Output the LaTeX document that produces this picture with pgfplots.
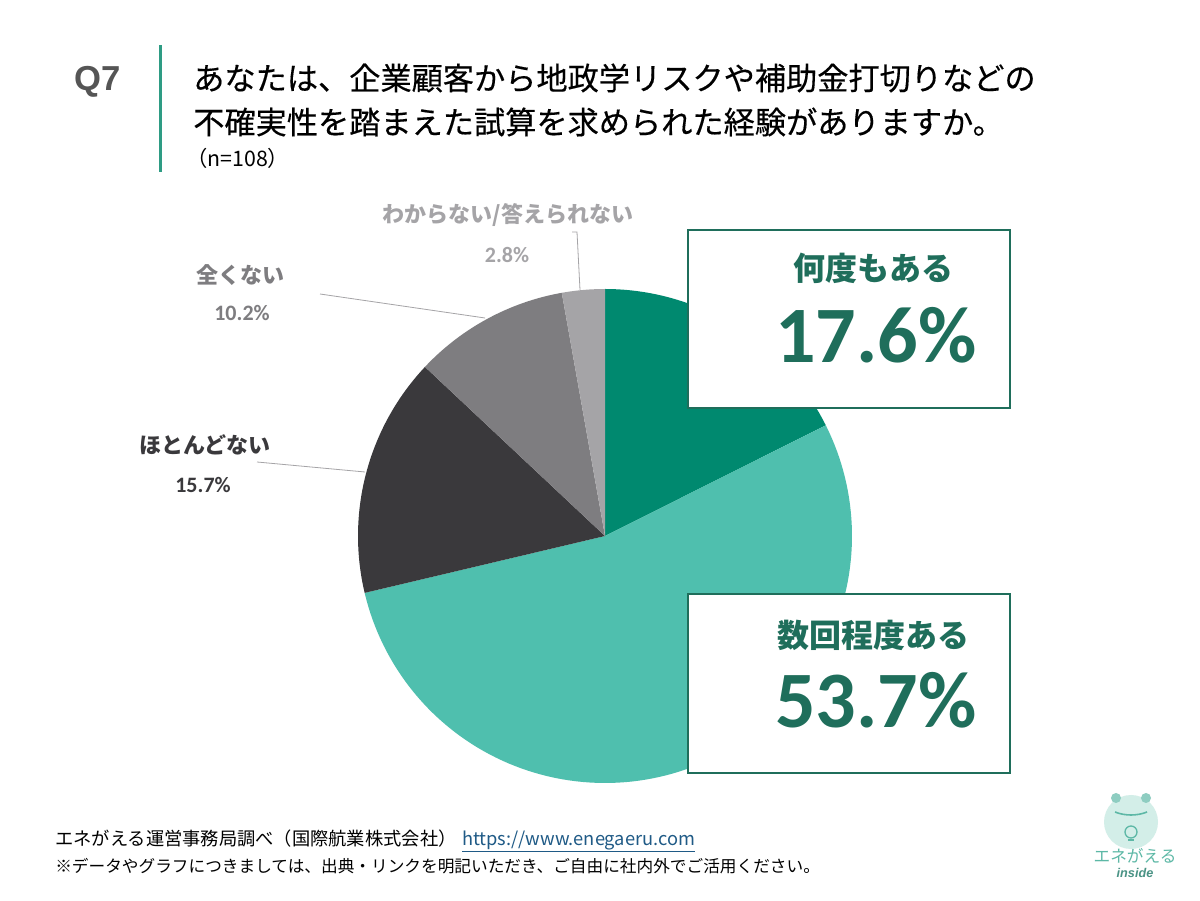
\documentclass[border=0pt]{standalone}
\usepackage{fontspec}
\usepackage{pgfplots}
\pgfplotsset{compat=1.18}
\setmainfont{Noto Sans CJK JP}
\newfontfamily\jp{Noto Sans CJK JP}
\newfontfamily\jpm{Noto Sans CJK JP}[FakeBold=0.35]
\newfontfamily\latin{Liberation Sans}
\newfontfamily\numfont{Carlito}

\definecolor{sliceA}{HTML}{00896F}
\definecolor{sliceB}{HTML}{4FBFAE}
\definecolor{sliceC}{HTML}{3A393C}
\definecolor{sliceD}{HTML}{7E7D80}
\definecolor{sliceE}{HTML}{A5A4A7}
\definecolor{boxgreen}{HTML}{1F6E5B}
\definecolor{qgrey}{HTML}{555555}
\definecolor{accent}{HTML}{2E9C84}
\definecolor{urlblue}{HTML}{1F5A86}
\definecolor{logoteal}{HTML}{5DB8A6}
\definecolor{logolight}{HTML}{D3EEE8}

% survey shares (%), clockwise from 12 o'clock
\def\vA{17.6}\def\vB{53.7}\def\vC{15.7}\def\vD{10.2}\def\vE{2.8}
\pgfmathsetmacro\aA{3.6*\vA}
\pgfmathsetmacro\aB{\aA+3.6*\vB}
\pgfmathsetmacro\aC{\aB+3.6*\vC}
\pgfmathsetmacro\aD{\aC+3.6*\vD}
\pgfmathsetmacro\aE{\aD+3.6*\vE}
\def\cx{605}\def\cy{364}\def\rr{247}

\newcommand{\fs}[1]{\fontsize{#1}{1.2\dimexpr#1pt\relax}\selectfont}

\begin{document}
\begin{tikzpicture}
\begin{axis}[
  width=900pt, height=675pt, scale only axis,
  xmin=0, xmax=1200, ymin=0, ymax=900,
  hide axis, clip=false,
]
\fill[white] (0,0) rectangle (1200,900);

% header
\node[font=\latin\bfseries\fs{26}, text=qgrey, inner sep=0] at (98,818) {Q7};
\fill[accent] (158.5,728) rectangle (161.5,855);
\node[anchor=west, inner sep=0, font=\jpm\fs{23.4}] at (193,822) {あなたは、企業顧客から地政学リスクや補助金打切りなどの};
\node[anchor=west, inner sep=0, font=\jpm\fs{23.4}] at (193,778) {不確実性を踏まえた試算を求められた経験がありますか。};
\node[anchor=west, inner sep=0, font=\jp\fs{16}] at (186,742) {（n=108）};

% pie slices
\addplot[fill=sliceA, draw=none, domain=0:\aA, samples=60, variable=\t]
  ({\cx+\rr*sin(\t)},{\cy+\rr*cos(\t)}) -- (\cx,\cy) -- cycle;
\addplot[fill=sliceB, draw=none, domain=\aA:\aB, samples=120, variable=\t]
  ({\cx+\rr*sin(\t)},{\cy+\rr*cos(\t)}) -- (\cx,\cy) -- cycle;
\addplot[fill=sliceC, draw=none, domain=\aB:\aC, samples=50, variable=\t]
  ({\cx+\rr*sin(\t)},{\cy+\rr*cos(\t)}) -- (\cx,\cy) -- cycle;
\addplot[fill=sliceD, draw=none, domain=\aC:\aD, samples=40, variable=\t]
  ({\cx+\rr*sin(\t)},{\cy+\rr*cos(\t)}) -- (\cx,\cy) -- cycle;
\addplot[fill=sliceE, draw=none, domain=\aD:\aE, samples=20, variable=\t]
  ({\cx+\rr*sin(\t)},{\cy+\rr*cos(\t)}) -- (\cx,\cy) -- cycle;

% leader lines
\draw[sliceE, line width=0.6pt] (572,668) -- (577,668) -- (580,610);
\draw[sliceE, line width=0.6pt] (320,606) -- (485,582);
\draw[sliceE, line width=0.6pt] (257,438) -- (365,428);

% small-slice labels
\node[font=\jp\bfseries\fs{16.5}, text=sliceE, inner sep=0] at (508,685) {わからない/答えられない};
\node[font=\numfont\bfseries\fs{16.5}, text=sliceE, inner sep=0] at (507,645) {\vE\%};
\node[font=\jp\bfseries\fs{16.5}, text=sliceD, inner sep=0] at (240,625) {全くない};
\node[font=\numfont\bfseries\fs{16.5}, text=sliceD, inner sep=0] at (242,587) {\vD\%};
\node[font=\jp\bfseries\fs{16.5}, text=sliceC, inner sep=0] at (205,455) {ほとんどない};
\node[font=\numfont\bfseries\fs{16.5}, text=sliceC, inner sep=0] at (203,415) {\vC\%};

% call-out boxes
\draw[boxgreen, line width=2.2pt, fill=white] (688,492) rectangle (1010,670);
\node[font=\jp\bfseries\fs{24}, text=boxgreen, inner sep=0] at (873,632) {何度もある};
\node[font=\numfont\bfseries\fs{60}, text=boxgreen, inner sep=0] at (876,565) {\vA\%};
\draw[boxgreen, line width=2.2pt, fill=white] (688,127) rectangle (1010,306);
\node[font=\jp\bfseries\fs{24}, text=boxgreen, inner sep=0] at (873,265) {数回程度ある};
\node[font=\numfont\bfseries\fs{60}, text=boxgreen, inner sep=0] at (876,200) {\vB\%};

% footer
\node[anchor=west, inner sep=0, font=\jp\fs{13.7}] at (55,59) {エネがえる運営事務局調べ（国際航業株式会社）\hspace{0.3em}\textcolor{urlblue}{\underline{https://www.enegaeru.com}}};
\node[anchor=west, inner sep=0, font=\jp\fs{12.5}] at (55,34) {※データやグラフにつきましては、出典・リンクを明記いただき、ご自由に社内外でご活用ください。};

% logo
\fill[logolight] (1131,78) circle[radius=27];
\fill[logoteal!70] (1116,102) circle[radius=5];
\fill[logoteal!70] (1146,102) circle[radius=5];
\draw[logoteal, line width=1.2pt] (1115,88) .. controls (1125,84) and (1137,84) .. (1147,88);
\draw[logoteal, line width=1pt] (1131,68) circle[radius=6];
\draw[logoteal, line width=1pt] (1128,60) -- (1134,60);
\node[font=\jp\fs{12.5}, text=logoteal, inner sep=0] at (1135,44) {エネがえる};
\node[font=\latin\bfseries\itshape\fs{9.5}, text=logoteal!80!black, inner sep=0] at (1135,27) {inside};
\end{axis}
\end{tikzpicture}
\end{document}
